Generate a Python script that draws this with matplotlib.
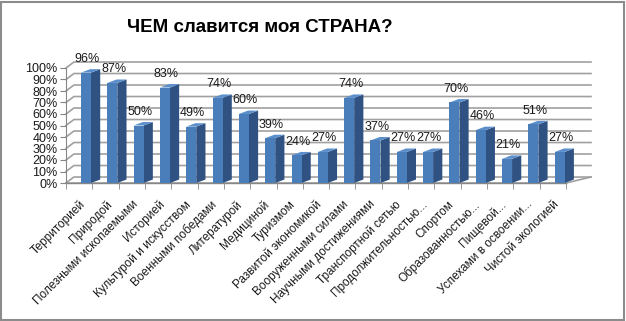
import matplotlib
matplotlib.use("Agg")
from matplotlib import pyplot as plt
from matplotlib.patches import Polygon, Rectangle
import numpy as np

plt.rcParams['font.family'] = ['Liberation Sans', 'DejaVu Sans']

title = 'ЧЕМ славится моя СТРАНА?'
categories = ['Территорией', 'Природой', 'Полезными ископаемыми', 'Историей',
              'Культурой и искусством', 'Военными победами', 'Литературой',
              'Медициной', 'Туризмом', 'Развитой экономикой',
              'Вооруженными силами', 'Научными достижениями',
              'Транспортной сетью', 'Продолжительностью...', 'Спортом',
              'Образованностью...', 'Пищевой...', 'Успехами в освоении...',
              'Чистой экологией']
values = [96, 87, 50, 83, 49, 74, 60, 39, 24, 27, 74, 37, 27, 27, 70, 46, 21, 51, 27]
yticks = [0, 10, 20, 30, 40, 50, 60, 70, 80, 90, 100]

fig = plt.figure(figsize=(6.26, 3.21), dpi=100)
fig.patch.set_facecolor('white')
fig.patches.append(Rectangle((0.002, 0.004), 0.995, 0.99, transform=fig.transFigure,
                             fill=False, edgecolor='#8c8c8c', linewidth=1.5))

ax = fig.add_axes([66/626, 138/321, 500/626, 115/321])
n = len(categories)
x = np.arange(n)
ax.set_xlim(-0.5, n - 0.5)
ax.set_ylim(0, 100)

# глубина 3D (в единицах данных)
dy = 5.2
dx_left = 0.30
dx_right = 0.95
grid_c = '#a0a0a0'

# сетка на задней стенке + скосы левой стенки
for t in yticks:
    ax.plot([-0.5, -0.5 + dx_left, n - 0.5 + dx_right], [t, t + dy, t + dy],
            color=grid_c, lw=1.2, clip_on=False, zorder=1)
# передний край пола и правый скос
ax.plot([-0.5, n - 0.5, n - 0.5 + dx_right], [0, 0, dy], color=grid_c, lw=1.2,
        clip_on=False, zorder=1)

# столбики
off = 0.07
w = 0.38
bdx = 0.35
bdy = 3.0
front_c = '#4a7ebb'
side_c = '#2f5282'
top_c = '#5b8fcc'
for xi, v in zip(x, values):
    x0 = xi + off
    x1 = x0 + w
    ax.add_patch(Polygon([(x1, 0), (x1 + bdx, bdy), (x1 + bdx, v + bdy), (x1, v)],
                         closed=True, facecolor=side_c, edgecolor='none',
                         clip_on=False, zorder=3))
    ax.add_patch(Polygon([(x0, v), (x1, v), (x1 + bdx, v + bdy), (x0 + bdx, v + bdy)],
                         closed=True, facecolor=top_c, edgecolor='none',
                         clip_on=False, zorder=3))
    ax.add_patch(Rectangle((x0, 0), w, v, facecolor=front_c, edgecolor='none',
                           clip_on=False, zorder=3))
    ax.annotate(f'{v}%', (x0 + w / 2 + 0.05, v + bdy), xytext=(0, 3),
                textcoords='offset points', ha='center', va='bottom',
                fontsize=9, color='#1a1a1a', zorder=4)

for s in ['top', 'right', 'bottom']:
    ax.spines[s].set_visible(False)
ax.spines['left'].set_color('#868686')
ax.set_facecolor('none')

ax.set_yticks(yticks)
ax.set_yticklabels([f'{t}%' for t in yticks], fontsize=9, color='#1a1a1a')
ax.tick_params(axis='y', length=4, color='#868686', pad=2)

ax.set_xticks(x)
ax.set_xticklabels(categories, rotation=45, ha='right', va='top',
                   rotation_mode='anchor', fontsize=8.5, color='#1a1a1a')
ax.tick_params(axis='x', length=0, pad=11)
ax.set_xticks(np.arange(-0.5, n), minor=True)
ax.tick_params(axis='x', which='minor', length=4, color='#868686')
ax.plot([-0.5, n - 0.5], [0, 0], color='#868686', lw=1.0, clip_on=False, zorder=2)

fig.text(260/626, 1 - 27/321, title, ha='center', va='center',
         fontsize=13.5, fontweight='bold', color='#000000')

fig.savefig('out.png', dpi=100)
